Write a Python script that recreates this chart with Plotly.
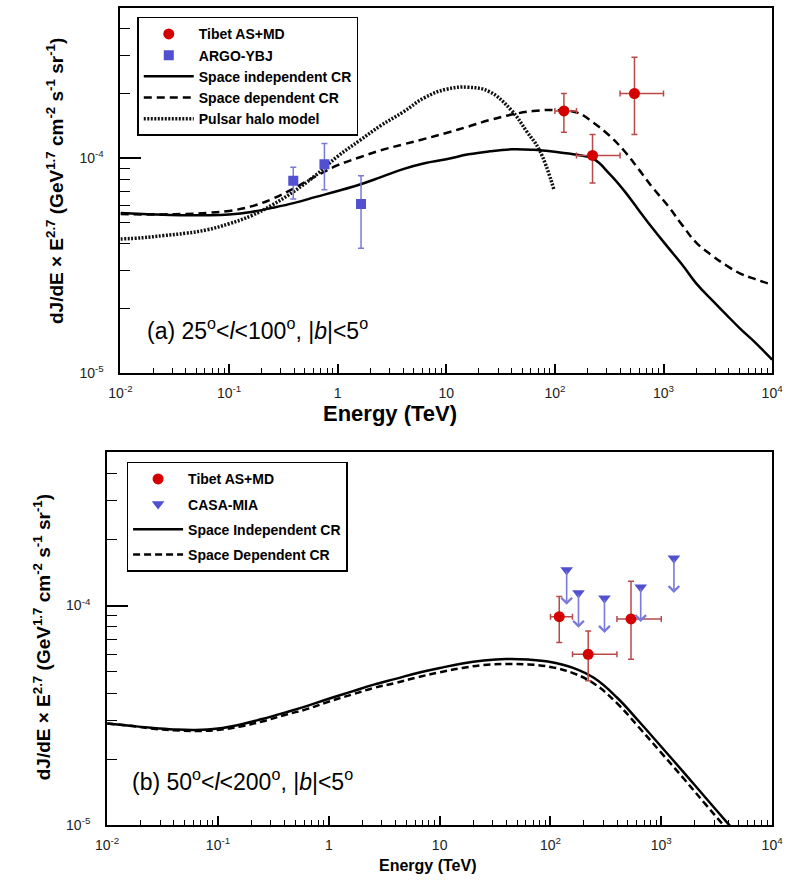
import numpy as np
import plotly.graph_objects as go

# ---------------- panel (a): 25 deg < l < 100 deg, |b| < 5 deg ----------------
# Tibet AS+MD measurements (energy bins in TeV, flux x E^2.7)
a_tibet_E = [121, 222, 540]
a_tibet_Elo = [100, 158, 398]
a_tibet_Ehi = [158, 398, 1000]
a_tibet_F = [1.66e-4, 1.03e-4, 2.00e-4]
a_tibet_Fhi = [2.00e-4, 1.29e-4, 2.95e-4]
a_tibet_Flo = [1.32e-4, 7.67e-5, 1.29e-4]

# ARGO-YBJ measurements
a_argo_E = [0.39, 0.755, 1.64]
a_argo_F = [7.86e-5, 9.38e-5, 6.13e-5]
a_argo_Fhi = [9.09e-5, 1.17e-4, 8.29e-5]
a_argo_Flo = [6.47e-5, 7.14e-5, 3.81e-5]

# model curves (energy grid shared by the two CR curves)
a_model_E = [0.01, 0.016, 0.025, 0.04, 0.063, 0.1, 0.16, 0.25, 0.4, 0.63, 1, 1.6,
             2.5, 4, 6.3, 10, 16, 25, 40, 63, 100, 160, 225, 320, 430, 590, 800,
             1100, 1500, 2000, 2800, 3800, 5100, 7000, 10000]
a_indep_F = [5.57e-5, 5.51e-5, 5.46e-5, 5.43e-5, 5.43e-5, 5.48e-5, 5.63e-5, 5.88e-5,
             6.20e-5, 6.61e-5, 7.04e-5, 7.55e-5, 8.17e-5, 8.90e-5, 9.48e-5, 9.89e-5,
             1.043e-4, 1.077e-4, 1.100e-4, 1.094e-4, 1.071e-4, 1.037e-4, 9.95e-5,
             8.44e-5, 7.11e-5, 5.75e-5, 4.70e-5, 3.85e-5, 3.18e-5, 2.62e-5, 2.19e-5,
             1.87e-5, 1.61e-5, 1.39e-5, 1.156e-5]
a_dep_F = [5.51e-5, 5.48e-5, 5.48e-5, 5.51e-5, 5.57e-5, 5.69e-5, 5.97e-5, 6.47e-5,
           7.27e-5, 8.26e-5, 9.28e-5, 1.011e-4, 1.089e-4, 1.160e-4, 1.230e-4,
           1.311e-4, 1.405e-4, 1.505e-4, 1.596e-4, 1.657e-4, 1.675e-4, 1.631e-4,
           1.466e-4, 1.270e-4, 1.089e-4, 8.90e-5, 7.27e-5, 6.00e-5, 4.86e-5, 4.05e-5,
           3.53e-5, 3.17e-5, 2.91e-5, 2.74e-5, 2.58e-5]

a_halo_E = [0.01, 0.016, 0.025, 0.04, 0.063, 0.1, 0.16, 0.25, 0.4, 0.63, 1, 1.6,
            2.5, 4, 6.3, 10, 16, 25, 40, 55, 72, 98]
a_halo_F = [4.21e-5, 4.27e-5, 4.37e-5, 4.48e-5, 4.65e-5, 4.96e-5, 5.40e-5, 6.07e-5,
            7.04e-5, 8.35e-5, 1.021e-4, 1.211e-4, 1.420e-4, 1.639e-4, 1.912e-4,
            2.093e-4, 2.138e-4, 2.038e-4, 1.665e-4, 1.332e-4, 1.092e-4, 7.14e-5]

# ---------------- panel (b): 50 deg < l < 200 deg, |b| < 5 deg ----------------
b_tibet_E = [120, 219, 533]
b_tibet_Elo = [100, 158, 398]
b_tibet_Ehi = [158, 398, 1000]
b_tibet_F = [8.9e-5, 6.0e-5, 8.7e-5]
b_tibet_Fhi = [1.10e-4, 7.66e-5, 1.29e-4]
b_tibet_Flo = [6.8e-5, 4.55e-5, 5.7e-5]

# CASA-MIA upper limits
b_casa_E = [140, 179, 307, 652, 1300]
b_casa_F = [1.45e-4, 1.14e-4, 1.08e-4, 1.21e-4, 1.64e-4]

b_model_E = [0.01, 0.016, 0.025, 0.04, 0.063, 0.1, 0.16, 0.25, 0.4, 0.63, 1, 1.6,
             2.5, 4, 6.3, 10, 16, 25, 40, 63, 100, 160, 250, 400, 630, 1000, 1600,
             2500, 4000, 6300]
b_indep_F = [2.91e-5, 2.84e-5, 2.78e-5, 2.735e-5, 2.72e-5, 2.76e-5, 2.88e-5, 3.05e-5,
             3.26e-5, 3.49e-5, 3.77e-5, 4.06e-5, 4.36e-5, 4.64e-5, 4.94e-5, 5.20e-5,
             5.45e-5, 5.62e-5, 5.71e-5, 5.68e-5, 5.54e-5, 5.21e-5, 4.67e-5, 3.81e-5,
             2.97e-5, 2.28e-5, 1.74e-5, 1.34e-5, 1.02e-5, 7.8e-6]
b_dep_F = [2.91e-5, 2.84e-5, 2.76e-5, 2.71e-5, 2.69e-5, 2.72e-5, 2.82e-5, 2.97e-5,
           3.18e-5, 3.38e-5, 3.66e-5, 3.93e-5, 4.21e-5, 4.45e-5, 4.72e-5, 4.97e-5,
           5.20e-5, 5.37e-5, 5.42e-5, 5.40e-5, 5.26e-5, 4.93e-5, 4.40e-5, 3.59e-5,
           2.79e-5, 2.14e-5, 1.63e-5, 1.25e-5, 9.5e-6, 7.3e-6]

# axis tick labels
x_tickvals = [0.01, 0.1, 1, 10, 100, 1000, 10000]
x_ticktext = ["10<sup>-2</sup>", "10<sup>-1</sup>", "1", "10",
              "10<sup>2</sup>", "10<sup>3</sup>", "10<sup>4</sup>"]
y_tickvals = [1e-5, 1e-4]
y_ticktext = ["10<sup>-5</sup>", "10<sup>-4</sup>"]

RED = "#d40000"
RED_ERR = "#b84a4a"
BLUE = "#5050d0"
BLUE_ERR = "#7a7ad8"
FONT = "Liberation Sans, Arial, Helvetica, sans-serif"

x_minor = [m * 10.0 ** k for k in range(-2, 4) for m in range(2, 10)]
y_minor = [m * 10.0 ** k for k in (-5, -4) for m in range(2, 10)]


def sub(a, b):
    return [x - y for x, y in zip(a, b)]


def curve(dash=None, width=2.5, color="black"):
    return dict(color=color, width=width, dash=dash, shape="spline", smoothing=1.2,
                simplify=False)


fig = go.Figure()

# ---- panel (a) curves ----
fig.add_trace(go.Scatter(x=a_model_E, y=a_indep_F, mode="lines", line=curve(),
                         name="Space independent CR", legend="legend", legendrank=3,
                         xaxis="x", yaxis="y"))
fig.add_trace(go.Scatter(x=a_model_E, y=a_dep_F, mode="lines", line=curve("8px,5px"),
                         name="Space dependent CR", legend="legend", legendrank=4,
                         xaxis="x", yaxis="y"))
fig.add_trace(go.Scatter(x=a_halo_E, y=a_halo_F, mode="lines",
                         line=curve("2px,1.5px", 3.5, "#111111"),
                         name="Pulsar halo model", legend="legend", legendrank=5,
                         xaxis="x", yaxis="y"))

# ---- panel (a) data ----
fig.add_trace(go.Scatter(
    x=a_argo_E, y=a_argo_F, mode="markers", name="ARGO-YBJ",
    marker=dict(symbol="square", size=10, color=BLUE),
    error_y=dict(type="data", symmetric=False, array=sub(a_argo_Fhi, a_argo_F),
                 arrayminus=sub(a_argo_F, a_argo_Flo), color=BLUE_ERR,
                 thickness=1.5, width=3),
    legend="legend", legendrank=2, xaxis="x", yaxis="y"))
fig.add_trace(go.Scatter(
    x=a_tibet_E, y=a_tibet_F, mode="markers", name="Tibet AS+MD",
    marker=dict(symbol="circle", size=11, color=RED),
    error_y=dict(type="data", symmetric=False, array=sub(a_tibet_Fhi, a_tibet_F),
                 arrayminus=sub(a_tibet_F, a_tibet_Flo), color=RED_ERR,
                 thickness=1.5, width=3),
    error_x=dict(type="data", symmetric=False, array=sub(a_tibet_Ehi, a_tibet_E),
                 arrayminus=sub(a_tibet_E, a_tibet_Elo), color=RED_ERR,
                 thickness=1.5, width=3),
    legend="legend", legendrank=1, xaxis="x", yaxis="y"))

# ---- panel (b) curves ----
fig.add_trace(go.Scatter(x=b_model_E, y=b_indep_F, mode="lines", line=curve(),
                         name="Space Independent CR", legend="legend2", legendrank=3,
                         legendgroup="b3", xaxis="x2", yaxis="y2"))
fig.add_trace(go.Scatter(x=b_model_E, y=b_dep_F, mode="lines", line=curve("7px,4px"),
                         name="Space Dependent CR", legend="legend2", legendrank=4,
                         legendgroup="b4", xaxis="x2", yaxis="y2"))

# ---- panel (b) data ----
fig.add_trace(go.Scatter(
    x=b_casa_E, y=b_casa_F, mode="markers", name="CASA-MIA",
    marker=dict(symbol="triangle-down", size=11, color=BLUE),
    legend="legend2", legendrank=2, legendgroup="b2", xaxis="x2", yaxis="y2"))
fig.add_trace(go.Scatter(
    x=b_tibet_E, y=b_tibet_F, mode="markers", name="Tibet AS+MD",
    marker=dict(symbol="circle", size=11, color=RED),
    error_y=dict(type="data", symmetric=False, array=sub(b_tibet_Fhi, b_tibet_F),
                 arrayminus=sub(b_tibet_F, b_tibet_Flo), color=RED_ERR,
                 thickness=1.5, width=3),
    error_x=dict(type="data", symmetric=False, array=sub(b_tibet_Ehi, b_tibet_E),
                 arrayminus=sub(b_tibet_E, b_tibet_Elo), color=RED_ERR,
                 thickness=1.5, width=3),
    legend="legend2", legendrank=1, legendgroup="b1", xaxis="x2", yaxis="y2"))

# upper-limit arrows for CASA-MIA (drop of 0.158 decade below each limit)
annotations = []
for e, f in zip(b_casa_E, b_casa_F):
    le, lf = np.log10(e), np.log10(f)
    annotations.append(dict(x=le, y=lf - 0.158, ax=le, ay=lf, xref="x2", yref="y2",
                            axref="x2", ayref="y2", showarrow=True, arrowhead=4,
                            arrowsize=1.3, arrowwidth=1.6, arrowcolor=BLUE_ERR,
                            text=""))

ylab = ("dJ/dE \u00d7 E<sup>2.7</sup> (GeV<sup>1.7</sup> cm<sup>-2</sup> "
        "s<sup>-1</sup> sr<sup>-1</sup>)")


def paper_text(text, px, py, size, angle=0, xanchor="center"):
    return dict(text=text, x=px / 797, y=1 - py / 885, xref="paper", yref="paper",
                xanchor=xanchor, yanchor="middle", showarrow=False, textangle=angle,
                font=dict(size=size, family=FONT, color="black"))


annotations += [
    paper_text("<b>Energy (TeV)</b>", 389, 417, 22),
    paper_text("<b>Energy (TeV)</b>", 428, 873, 16),
    paper_text("<b>" + ylab + "</b>", 45, 183, 19, angle=-90),
    paper_text("<b>" + ylab + "</b>", 31, 643, 19, angle=-90),
    paper_text("(a) 25<sup>o</sup><<i>l</i><100<sup>o</sup>, |<i>b</i>|<5<sup>o</sup>",
               137, 332, 23, xanchor="left"),
    paper_text("(b) 50<sup>o</sup><<i>l</i><200<sup>o</sup>, |<i>b</i>|<5<sup>o</sup>",
               121, 787, 23, xanchor="left"),
]

xaxis_common = dict(type="log", range=[-2, 4], tickmode="array", tickvals=x_tickvals,
                    ticktext=x_ticktext, ticks="inside", ticklen=9, tickwidth=1.5,
                    tickcolor="black", showline=True, linecolor="black", linewidth=2,
                    mirror=True, showgrid=False, zeroline=False,
                    tickfont=dict(size=14, family=FONT, color="#222222"),
                    ticklabelstandoff=6,
                    minor=dict(tickmode="array", tickvals=x_minor, ticks="inside",
                               ticklen=5, tickwidth=1.2, tickcolor="black",
                               showgrid=False))
yaxis_common = dict(type="log", range=[-5, np.log10(5e-4)], tickmode="array",
                    tickvals=y_tickvals, ticktext=y_ticktext, ticks="inside",
                    ticklen=21, tickwidth=1.5, tickcolor="black", showline=True,
                    linecolor="black", linewidth=2, mirror=True, showgrid=False,
                    zeroline=False, ticklabelstandoff=12,
                    tickfont=dict(size=14, family=FONT, color="#222222"),
                    minor=dict(tickmode="array", tickvals=y_minor, ticks="inside",
                               ticklen=10, tickwidth=1.2, tickcolor="black",
                               showgrid=False))

legend_common = dict(bgcolor="white", bordercolor="black", borderwidth=1.5,
                     xanchor="left", yanchor="top", itemwidth=50,
                     font=dict(size=14, family=FONT, color="black"), itemclick=False)

fig.update_layout(
    width=797, height=885, margin=dict(l=0, r=0, t=0, b=0),
    paper_bgcolor="white", plot_bgcolor="white", showlegend=True,
    xaxis=dict(domain=[111.7 / 797, 782.7 / 797], anchor="y", **xaxis_common),
    yaxis=dict(domain=[1 - 376.7 / 885, 1 - 8 / 885], anchor="x", **yaxis_common),
    xaxis2=dict(domain=[98 / 797, 782.7 / 797], anchor="y2", **xaxis_common),
    yaxis2=dict(domain=[1 - 833 / 885, 1 - 456 / 885], anchor="x2", **yaxis_common),
    legend=dict(x=129 / 797, y=1 - 17 / 885, traceorder="normal", **legend_common),
    legend2=dict(x=118 / 797, y=1 - 466 / 885, traceorder="grouped",
                 tracegroupgap=4, **legend_common),
    annotations=annotations,
)
# bold legend labels
for tr in fig.data:
    tr.name = "<b>" + tr.name + "</b>"

fig.write_html("out.html")
